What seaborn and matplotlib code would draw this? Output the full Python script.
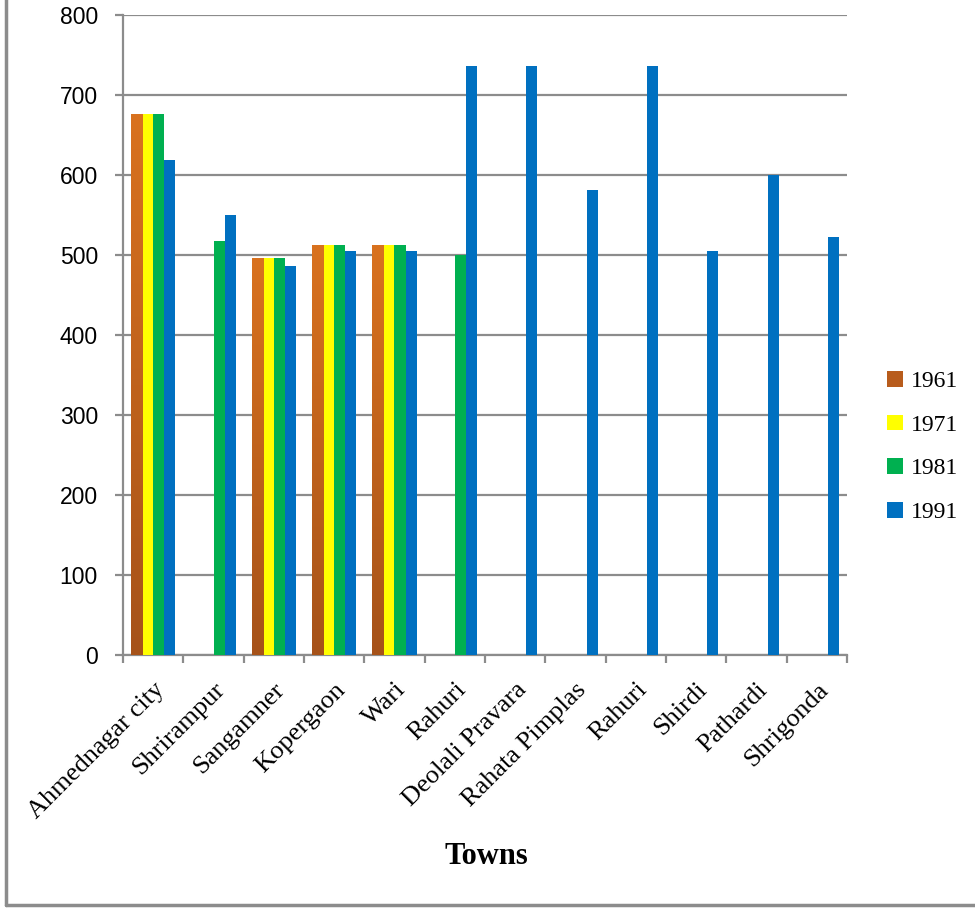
import numpy as np
import pandas as pd
import matplotlib
matplotlib.use("Agg")
import matplotlib.pyplot as plt
from matplotlib.colors import LinearSegmentedColormap
from matplotlib.lines import Line2D
from matplotlib.patches import Patch
import seaborn as sns

towns = ["Ahmednagar city", "Shrirampur", "Sangamner", "Kopergaon", "Wari",
         "Rahuri", "Deolali Pravara", "Rahata Pimplas", "Rahuri", "Shirdi",
         "Pathardi", "Shrigonda"]
years = ["1961", "1971", "1981", "1991"]
v1961 = [676, np.nan, 496, 512, 512, np.nan, np.nan, np.nan, np.nan, np.nan, np.nan, np.nan]
v1971 = [676, np.nan, 496, 512, 512, np.nan, np.nan, np.nan, np.nan, np.nan, np.nan, np.nan]
v1981 = [676, 517, 496, 512, 512, 500, np.nan, np.nan, np.nan, np.nan, np.nan, np.nan]
v1991 = [619, 550, 486, 505, 505, 736, 736, 581, 736, 505, 600, 522]
colors = ["#C8661E", "#FFFF00", "#00B050", "#0070C0"]

rows = []
for i in range(len(towns)):
    for yr, vals in zip(years, [v1961, v1971, v1981, v1991]):
        rows.append({"pos": i, "year": yr, "value": vals[i]})
df = pd.DataFrame(rows)

sns.set_style("white")
plt.rcParams["font.family"] = ["Liberation Serif", "DejaVu Serif"]
plt.rcParams["text.color"] = "black"

fig = plt.figure(figsize=(9.75, 9.09), dpi=100)
ax = fig.add_axes([123 / 975, 1 - 655 / 909, (847 - 123) / 975, (655 - 15) / 909])

sns.barplot(data=df, x="pos", y="value", hue="year", hue_order=years,
            palette=colors, width=0.73, gap=0, saturation=1, ax=ax,
            legend=False, zorder=3, linewidth=0)

# vertical orange-to-brown shading on the 1961 bars
grad = LinearSegmentedColormap.from_list("g61", ["#A65219", "#D9721F"])
for p in ax.containers[0]:
    h = p.get_height()
    if not np.isfinite(h) or h <= 0:
        continue
    x0 = p.get_x()
    w = p.get_width()
    img = ax.imshow(np.linspace(0, 1, 256).reshape(-1, 1), cmap=grad,
                    origin="lower", aspect="auto",
                    extent=[x0, x0 + w, 0, h], zorder=3.5)
    img.set_clip_path(p)
    p.set_facecolor("none")

ax.set_xlim(-0.5, len(towns) - 0.5)
ax.set_ylim(0, 800)
ax.set_yticks(np.arange(0, 801, 100))
ax.yaxis.grid(True, color="#8C8C8C", linewidth=1.6, zorder=0)
ax.set_axisbelow(True)

for s in ["top", "right"]:
    ax.spines[s].set_visible(False)
for s in ["left", "bottom"]:
    ax.spines[s].set_color("#8C8C8C")
    ax.spines[s].set_linewidth(1.6)

ax.set_xticks(range(len(towns)))
ax.set_xticklabels(towns, rotation=45, ha="right", va="top",
                   rotation_mode="anchor", fontsize=19,
                   family=["Liberation Serif"])
ax.set_xticks(np.arange(-0.5, len(towns)), minor=True)
ax.tick_params(axis="x", which="major", length=0, pad=17, labelcolor="black")
ax.tick_params(axis="x", which="minor", length=6, width=1.6, color="#8C8C8C",
               direction="out", bottom=True)
ax.tick_params(axis="y", length=6, width=1.6, color="#8C8C8C", direction="out",
               left=True, pad=12, labelcolor="black")
for lab in ax.get_yticklabels():
    lab.set_family(["Liberation Sans"])
    lab.set_fontsize(16.5)

ax.set_xlabel("")
ax.set_ylabel("")
fig.text(486 / 975, 1 - 857 / 909, "Towns", ha="center", va="center",
         fontsize=22, fontweight="bold", family=["Liberation Serif"],
         color="black")

handles = [Patch(facecolor=c, edgecolor="none") for c in ["#B85C1C"] + colors[1:]]
fig.legend(handles, years, loc="center left", bbox_to_anchor=(866 / 975, 1 - 447 / 909),
           frameon=False, fontsize=17, handlelength=0.65, handleheight=0.65,
           handletextpad=0.35, labelspacing=0.95, labelcolor="black")

# outer frame of the chart area
fig.add_artist(Line2D([6 / 975, 6 / 975], [4 / 909, 1.01], transform=fig.transFigure,
                      color="#8C8C8C", linewidth=2.5))
fig.add_artist(Line2D([6 / 975, 1.01], [4 / 909, 4 / 909], transform=fig.transFigure,
                      color="#8C8C8C", linewidth=2.5))

fig.savefig("out.png", dpi=100)
